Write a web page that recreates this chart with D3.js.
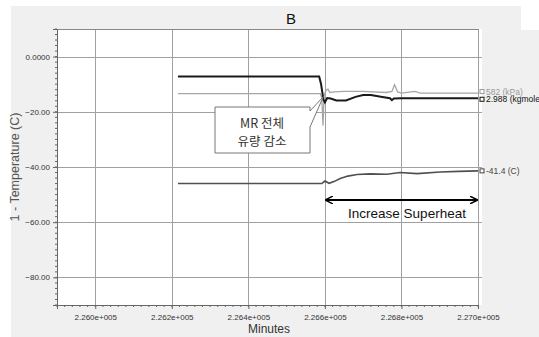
<!DOCTYPE html>
<html>
<head>
<meta charset="utf-8">
<script src="https://cdn.jsdelivr.net/npm/d3@7"></script>
<style>
  body { margin: 0; background: #fff; }
  svg { display: block; }
</style>
</head>
<body>
<script>
const width = 539;
const height = 337;

// data (minutes, value)
const flowSeries = [
  [226216, -7.2], [226585, -7.2], [226590, -10], [226596, -15.5], [226600, -16.6],
  [226606, -15.0], [226615, -15.2], [226630, -15.9], [226655, -15.9], [226680, -14.6],
  [226700, -13.9], [226720, -13.9], [226750, -14.6], [226770, -15.1], [226775, -15.8],
  [226780, -15.2], [226800, -15.1], [227000, -15.1]
];
const pressureSeries = [
  [226216, -13.4], [226588, -13.4], [226592, -15], [226595, -25], [226598, -14],
  [226603, -12.2], [226608, -11.8], [226613, -13.0], [226625, -12.8], [226650, -12.6],
  [226700, -12.6], [226760, -13.0], [226775, -12.6], [226782, -10.2], [226790, -12.8],
  [226800, -13.2], [226835, -12.6], [226850, -13.2], [227000, -13.2]
];
const tempSeries = [
  [226216, -46.0], [226592, -46.0], [226600, -45.1], [226611, -45.9], [226625, -45.2],
  [226640, -44.2], [226660, -43.3], [226684, -42.7], [226718, -42.5], [226762, -42.6],
  [226796, -42.0], [226841, -42.4], [226901, -41.8], [226950, -41.6], [227000, -41.4]
];
const endLabels = ["582 (kPa)", "2.988 (kgmole", "-41.4 (C)"];
const xTicks = [226000, 226200, 226400, 226600, 226800, 227000];
const yTicks = [0, -20, -40, -60, -80];
const arrowRange = [226600, 227000];

const svg = d3.select("body").append("svg")
  .attr("width", width).attr("height", height);

// 背景パネル
svg.append("rect").attr("x", 11).attr("y", 6).attr("width", width - 11).attr("height", height - 6)
  .attr("fill", "#f0f0f0");
svg.append("rect").attr("x", 521).attr("y", 0).attr("width", 18).attr("height", 30).attr("fill", "#fff");

const x = d3.scaleLinear().domain([225900, 227000]).range([57, 478]);
const y = d3.scaleLinear().domain([-90, 10]).range([305, 29]);

// plot area
svg.append("rect").attr("x", 57).attr("y", 29).attr("width", 425).attr("height", 276).attr("fill", "#fff");

// grid
svg.append("g").selectAll("line").data(yTicks).enter().append("line")
  .attr("x1", 57).attr("x2", 482)
  .attr("y1", d => Math.round(y(d)) + 0.5).attr("y2", d => Math.round(y(d)) + 0.5)
  .attr("stroke", "#a0a0a0");
svg.append("g").selectAll("line").data(xTicks).enter().append("line")
  .attr("x1", d => Math.round(x(d)) + 0.5).attr("x2", d => Math.round(x(d)) + 0.5)
  .attr("y1", 29).attr("y2", 305)
  .attr("stroke", "#a0a0a0");
svg.append("line").attr("x1", 57).attr("x2", 478.5).attr("y1", 29.5).attr("y2", 29.5).attr("stroke", "#888");

// axes
const xAxis = svg.append("g").attr("transform", "translate(0,305)")
  .call(d3.axisBottom(x).tickValues(xTicks).tickSize(4).tickFormat(d => d3.format(".3f")(d / 1e5) + "e+005"));
const yAxis = svg.append("g").attr("transform", "translate(57,0)")
  .call(d3.axisLeft(y).tickValues(yTicks).tickSize(4).tickFormat(d => d === 0 ? "0.0000" : d3.format(".2f")(d)));
[xAxis, yAxis].forEach(g => {
  g.select(".domain").attr("stroke", "#666");
  g.selectAll(".tick line").attr("stroke", "#666");
  g.selectAll("text").attr("font-family", "Liberation Sans, Arial, sans-serif")
    .attr("font-size", 8).attr("fill", "#333");
});
xAxis.selectAll("text").attr("dy", "1em");

// minor ticks
svg.append("g").selectAll("line").data(d3.range(225900, 227001, 20)).enter().append("line")
  .attr("x1", d => x(d)).attr("x2", d => x(d)).attr("y1", 305).attr("y2", 307)
  .attr("stroke", "#666");
svg.append("g").selectAll("line").data(d3.range(-90, 10.1, 2)).enter().append("line")
  .attr("x1", 55).attr("x2", 57).attr("y1", d => y(d)).attr("y2", d => y(d))
  .attr("stroke", "#666");

// series
const line = d3.line().x(d => x(d[0])).y(d => y(d[1]));
svg.append("path").datum(pressureSeries).attr("d", line)
  .attr("fill", "none").attr("stroke", "#a6a6a6").attr("stroke-width", 1.3);
svg.append("path").datum(tempSeries).attr("d", line)
  .attr("fill", "none").attr("stroke", "#505050").attr("stroke-width", 1.6);
svg.append("path").datum(flowSeries).attr("d", line)
  .attr("fill", "none").attr("stroke", "#1a1a1a").attr("stroke-width", 2);

// end labels
const ends = [
  { s: pressureSeries, c: "#999", dy: -1.5 },
  { s: flowSeries, c: "#111", dy: 1 },
  { s: tempSeries, c: "#444", dy: 0 }
];
ends.forEach((e, i) => {
  const last = e.s[e.s.length - 1];
  const py = y(last[1]) + e.dy;
  svg.append("rect").attr("x", x(last[0]) + 2).attr("y", py - 2).attr("width", 4).attr("height", 4)
    .attr("fill", "#fff").attr("stroke", e.c);
  svg.append("text").attr("x", x(last[0]) + 8).attr("y", py + 3)
    .attr("font-family", "Liberation Sans, Arial, sans-serif").attr("font-size", 8.5)
    .attr("fill", e.c).text(endLabels[i]);
});

// callout
const tip = [x(226596), y(-14.5)];
svg.append("path")
  .attr("d", `M215,107 H310 V111 L${tip[0]},${tip[1]} L310,127 V153 H215 Z`)
  .attr("fill", "#fff").attr("stroke", "#777").attr("stroke-width", 1);
svg.append("text").attr("x", 262).attr("y", 128).attr("text-anchor", "middle")
  .attr("font-family", "Noto Sans CJK KR, sans-serif").attr("font-size", 12.5).attr("fill", "#333")
  .text("MR 전체");
svg.append("text").attr("x", 262).attr("y", 146).attr("text-anchor", "middle")
  .attr("font-family", "Noto Sans CJK KR, sans-serif").attr("font-size", 12.5).attr("fill", "#333")
  .text("유량 감소");

// arrow
const defs = svg.append("defs");
defs.append("marker").attr("id", "ah").attr("viewBox", "0 0 10 10").attr("refX", 9).attr("refY", 5)
  .attr("markerWidth", 8).attr("markerHeight", 8).attr("orient", "auto-start-reverse")
  .attr("markerUnits", "userSpaceOnUse")
  .append("path").attr("d", "M0,0 L10,5 L0,10").attr("fill", "none").attr("stroke", "#000").attr("stroke-width", 1.8);
svg.append("line").attr("x1", x(arrowRange[0]) + 1).attr("x2", x(arrowRange[1]) - 1)
  .attr("y1", 200).attr("y2", 200).attr("stroke", "#000").attr("stroke-width", 2)
  .attr("marker-start", "url(#ah)").attr("marker-end", "url(#ah)");
svg.append("text").attr("x", 407).attr("y", 218).attr("text-anchor", "middle")
  .attr("font-family", "Liberation Sans, Arial, sans-serif").attr("font-size", 13.5).attr("fill", "#111")
  .text("Increase Superheat");

// titles
svg.append("text").attr("x", 291).attr("y", 24).attr("text-anchor", "middle")
  .attr("font-family", "Liberation Sans, Arial, sans-serif").attr("font-size", 15).attr("fill", "#111")
  .text("B");
svg.append("text").attr("x", 269).attr("y", 333).attr("text-anchor", "middle")
  .attr("font-family", "Liberation Sans, Arial, sans-serif").attr("font-size", 12).attr("fill", "#333")
  .text("Minutes");
svg.append("text").attr("transform", "translate(19,167) rotate(-90)").attr("text-anchor", "middle")
  .attr("font-family", "Liberation Sans, Arial, sans-serif").attr("font-size", 12.5).attr("fill", "#555")
  .text("1 - Temperature (C)");
</script>
</body>
</html>
